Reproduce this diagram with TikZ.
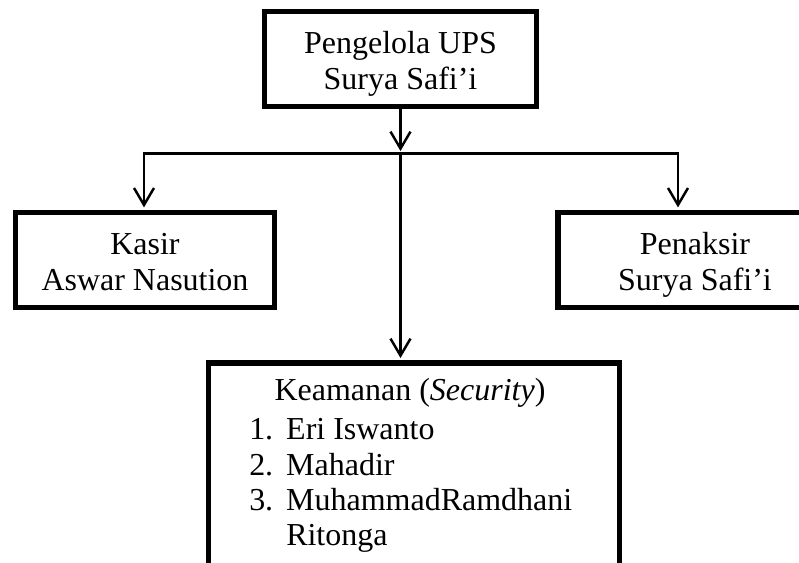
\documentclass[tikz,border=0pt]{standalone}
\usepackage{fontspec}
\setmainfont{Liberation Serif}
\usetikzlibrary{arrows.meta, positioning, calc}

\begin{document}
\begin{tikzpicture}[
    font=\fontsize{18.2}{20}\selectfont,
    unitbox/.style={
        rectangle, draw=black, line width=3pt, align=center,
        minimum width=#1, minimum height=1.9cm, inner sep=2pt
    },
    twoline/.style={text height=38.3pt, text depth=4pt},
    arr/.style={
        -{Straight Barb[length=3.4mm,width=4mm]}, line width=1.4pt,
        shorten >=1.4pt
    },
]

\useasboundingbox (0,0) rectangle (15.98,11.26);

% ============================================================
% Pengelola
% ============================================================

\node[unitbox=5.45cm, twoline] (pengelola) at (8.01,10.08) {Pengelola UPS\\Surya Safi’i};

% ============================================================
% Kasir / Penaksir
% ============================================================

\node[unitbox=5.17cm, twoline] (kasir) at (2.90,6.06) {Kasir\\Aswar Nasution};
\node[unitbox=5.48cm, twoline] (penaksir) at (13.90,6.06) {Penaksir\\Surya Safi’i};

% ============================================================
% Keamanan
% ============================================================

\node[unitbox=8.05cm, anchor=north, inner sep=0pt] (keamanan) at (8.28,4.05) {
    \begin{minipage}[t][4.6cm][t]{8.05cm}
    \vspace*{0.31cm}
    \centering Keamanan (\textit{Security})\par
    \vspace{0.08cm}
    \raggedright\noindent\hspace*{0.81cm}%
    \begin{tabular}[t]{@{}p{0.74cm}@{}l@{}}
    1. & Eri Iswanto\\
    2. & Mahadir\\
    3. & MuhammadRamdhani\\
       & Ritonga
    \end{tabular}
    \end{minipage}
};

% Connectors
\coordinate (bus) at (pengelola.south |- 0,8.19);
\coordinate (busL) at (2.88,8.19);
\coordinate (busR) at (13.56,8.19);

\draw[arr] (pengelola.south) -- (bus);
\draw[arr] (bus) -| (busL |- kasir.north);
\draw[arr] (bus) -| (busR |- penaksir.north);
\draw[arr] (bus) -- (bus |- keamanan.north);

\end{tikzpicture}
\end{document}
